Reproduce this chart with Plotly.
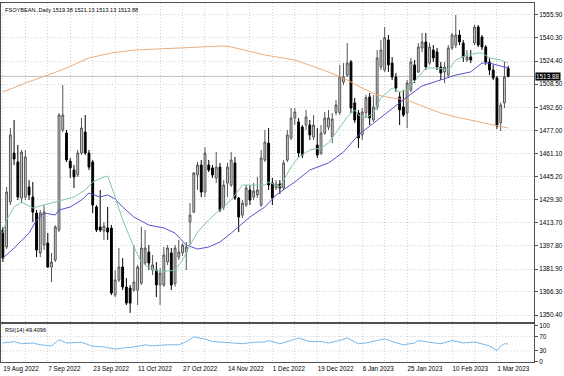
import plotly.graph_objects as go
import pandas as pd

chart_title = "FSOYBEAN.,Daily 1519.38 1521.13 1513.13 1513.88"
rsi_title = "RSI(14) 49.4096"
last_price = 1513.88

holidays = ["2022-09-05", "2022-11-24", "2022-12-26", "2023-01-02", "2023-01-16", "2023-02-20"]
dates = [d for d in pd.bdate_range("2022-08-19", "2023-03-06") if d.strftime("%Y-%m-%d") not in holidays]

opens = [1408.7, 1397.1, 1427.9, 1461.4, 1455.3, 1430.6, 1431.3, 1438.2, 1431.3, 1420.3,
         1393.0, 1398.4, 1399.8, 1383.4, 1388.2, 1408.7, 1477.2, 1475.1, 1455.9, 1449.8,
         1446.4, 1461.4, 1475.8, 1461.4, 1455.3, 1424.5, 1410.8, 1408.0, 1410.1, 1410.1,
         1364.2, 1374.5, 1383.4, 1369.7, 1369.0, 1367.6, 1367.6, 1372.4, 1386.1, 1393.6,
         1381.3, 1381.3, 1371.1, 1371.1, 1386.8, 1393.0, 1372.0, 1390.2, 1393.0, 1393.6,
         1414.2, 1421.0, 1446.4, 1453.2, 1434.7, 1453.2, 1451.2, 1444.3, 1451.8, 1424.5,
         1440.9, 1439.5, 1454.6, 1430.6, 1418.9, 1425.8, 1436.1, 1431.3, 1432.7, 1425.8,
         1456.6, 1468.2, 1440.9, 1437.5, 1440.2, 1437.5, 1456.6, 1471.7, 1485.4, 1482.7,
         1479.2, 1480.6, 1480.6, 1472.4, 1466.9, 1461.4, 1475.1, 1479.2, 1472.4, 1489.1,
         1489.1, 1510.0, 1514.8, 1523.7, 1495.7, 1488.8, 1473.8, 1489.1, 1499.8, 1484.0,
         1492.9, 1520.3, 1518.2, 1538.8, 1523.0, 1513.5, 1499.8, 1492.9, 1488.8, 1504.6,
         1521.7, 1516.9, 1533.3, 1537.4, 1523.0, 1531.9, 1530.6, 1520.3, 1516.9, 1514.8,
         1533.3, 1535.3, 1542.2, 1536.7, 1525.1, 1527.2, 1536.7, 1547.7, 1540.8, 1534.0,
         1523.7, 1518.2, 1512.8, 1482.0, 1495.7, 1519.38]
highs = [1410.8, 1438.2, 1478.5, 1484.0, 1466.9, 1463.5, 1463.5, 1442.9, 1441.6, 1422.4,
         1422.4, 1425.8, 1406.7, 1393.0, 1412.1, 1488.8, 1508.0, 1477.2, 1458.0, 1453.2,
         1463.5, 1485.4, 1487.4, 1463.5, 1456.6, 1425.8, 1436.1, 1414.2, 1424.5, 1412.1,
         1381.3, 1396.4, 1389.5, 1375.8, 1371.1, 1398.4, 1384.8, 1410.8, 1408.7, 1398.4,
         1391.6, 1386.8, 1382.7, 1397.1, 1398.4, 1396.4, 1398.4, 1401.9, 1399.8, 1400.5,
         1427.2, 1448.4, 1455.3, 1456.6, 1465.5, 1456.6, 1453.2, 1462.1, 1454.6, 1442.9,
         1454.6, 1462.1, 1458.7, 1431.3, 1429.2, 1439.5, 1439.5, 1440.9, 1445.0, 1463.5,
         1477.2, 1478.5, 1444.3, 1442.9, 1442.9, 1456.6, 1477.2, 1492.2, 1492.2, 1485.4,
         1480.6, 1490.9, 1484.0, 1487.4, 1478.5, 1480.6, 1489.5, 1490.9, 1488.8, 1497.7,
         1521.7, 1523.0, 1536.7, 1525.1, 1499.1, 1490.9, 1492.2, 1501.3, 1502.5, 1501.1,
         1531.9, 1538.8, 1547.7, 1542.2, 1527.1, 1516.2, 1503.2, 1504.6, 1511.4, 1526.5,
         1525.1, 1536.7, 1543.6, 1543.6, 1536.7, 1535.3, 1533.3, 1523.7, 1523.7, 1535.3,
         1543.6, 1555.9, 1545.6, 1538.8, 1531.9, 1531.9, 1549.1, 1549.1, 1542.2, 1535.3,
         1526.5, 1521.7, 1514.1, 1496.0, 1523.7, 1521.13]
lows = [1386.8, 1395.7, 1425.8, 1453.2, 1429.2, 1427.2, 1429.2, 1429.2, 1414.2, 1390.2,
        1390.2, 1395.0, 1382.7, 1373.1, 1386.8, 1407.3, 1475.8, 1455.3, 1444.3, 1437.5,
        1445.0, 1460.1, 1460.1, 1449.8, 1420.3, 1407.3, 1407.3, 1401.9, 1401.9, 1364.2,
        1362.8, 1373.1, 1367.6, 1357.4, 1352.0, 1366.3, 1357.4, 1371.1, 1384.8, 1381.3,
        1377.9, 1362.8, 1357.4, 1369.7, 1384.8, 1367.6, 1370.0, 1388.2, 1390.9, 1381.3,
        1398.4, 1420.3, 1436.1, 1431.3, 1431.3, 1448.4, 1444.3, 1440.9, 1421.0, 1422.4,
        1431.3, 1438.2, 1429.2, 1407.3, 1416.9, 1424.5, 1425.8, 1429.2, 1430.6, 1424.5,
        1455.3, 1436.1, 1425.8, 1436.1, 1433.4, 1436.1, 1455.3, 1470.3, 1480.6, 1458.7,
        1458.0, 1477.2, 1470.3, 1470.3, 1458.0, 1460.1, 1473.8, 1477.2, 1468.2, 1487.4,
        1487.4, 1508.0, 1513.5, 1488.8, 1482.0, 1464.8, 1470.3, 1485.4, 1480.6, 1482.7,
        1490.9, 1518.2, 1516.9, 1516.9, 1511.4, 1503.2, 1480.6, 1486.1, 1478.5, 1503.2,
        1509.3, 1516.2, 1530.5, 1518.2, 1521.7, 1523.7, 1518.2, 1511.4, 1509.3, 1513.5,
        1531.9, 1533.3, 1535.3, 1523.7, 1523.7, 1523.0, 1535.3, 1534.0, 1531.9, 1521.7,
        1514.8, 1511.4, 1477.9, 1476.5, 1492.2, 1513.13]
closes = [1389.5, 1434.7, 1473.8, 1457.3, 1431.3, 1462.1, 1458.7, 1432.7, 1421.0, 1395.0,
          1420.3, 1421.0, 1383.4, 1386.8, 1410.8, 1487.4, 1487.4, 1456.6, 1451.2, 1445.0,
          1461.4, 1478.5, 1461.4, 1451.8, 1425.8, 1408.7, 1408.7, 1411.4, 1407.3, 1365.6,
          1374.5, 1383.4, 1369.7, 1358.7, 1358.7, 1373.1, 1383.4, 1396.4, 1396.4, 1386.1,
          1384.8, 1371.1, 1379.3, 1391.6, 1396.4, 1371.1, 1396.4, 1393.6, 1398.4, 1397.1,
          1418.9, 1447.7, 1453.2, 1434.7, 1461.4, 1449.8, 1446.4, 1451.8, 1422.4, 1439.5,
          1451.8, 1456.6, 1430.6, 1417.6, 1427.2, 1437.5, 1429.2, 1435.4, 1436.1, 1458.0,
          1468.9, 1439.5, 1430.6, 1440.2, 1437.5, 1454.6, 1473.8, 1485.4, 1489.5, 1461.4,
          1460.1, 1486.1, 1473.8, 1480.6, 1460.1, 1475.1, 1485.4, 1485.4, 1484.7, 1494.3,
          1513.5, 1513.5, 1523.0, 1492.2, 1484.0, 1471.7, 1489.5, 1499.3, 1485.4, 1492.9,
          1526.5, 1531.9, 1540.4, 1521.7, 1513.5, 1505.9, 1490.9, 1487.4, 1509.3, 1523.7,
          1511.4, 1534.0, 1537.4, 1520.3, 1534.0, 1526.5, 1520.3, 1516.2, 1520.3, 1533.3,
          1542.2, 1542.2, 1537.4, 1527.2, 1527.2, 1525.1, 1547.7, 1535.3, 1534.0, 1523.7,
          1518.2, 1512.8, 1479.9, 1494.3, 1513.5, 1513.88]

ma_slow_bars = [0, 6, 12, 17, 23, 29, 35, 50, 53, 59, 61, 70, 78, 87, 92, 96, 100, 104, 108, 112, 117, 121, 126, 130, 135]
ma_slow_vals = [1503.2, 1509.3, 1514.8, 1519.6, 1526.5, 1529.9, 1531.9, 1533.3, 1534.0, 1534.7, 1534.0, 1528.5, 1525.1,
                1516.9, 1511.4, 1505.9, 1501.1, 1499.1, 1497.7, 1493.6, 1488.8, 1486.1, 1483.3, 1481.3, 1478.5]
ma_mid_bars = [0, 3, 7, 9, 11, 14, 15, 18, 21, 23, 26, 28, 30, 32, 35, 39, 43, 46, 49, 52, 55, 58, 61, 63, 66, 70,
               73, 78, 82, 87, 91, 95, 100, 104, 108, 112, 117, 121, 125, 128, 130, 133, 135]
ma_mid_vals = [1389.5, 1396.4, 1406.6, 1415.6, 1420.4, 1419.0, 1422.4, 1424.5, 1429.2, 1434.0, 1431.3, 1432.7, 1429.9,
               1424.5, 1417.6, 1412.1, 1410.1, 1406.6, 1398.4, 1395.7, 1397.1, 1400.5, 1406.6, 1410.8, 1417.6, 1424.5,
               1432.7, 1441.6, 1449.8, 1454.6, 1462.1, 1473.8, 1484.0, 1492.2, 1499.8, 1507.3, 1511.4, 1514.8, 1516.9,
               1523.0, 1523.0, 1521.0, 1519.6]
ma_fast_bars = [0, 1, 3, 5, 8, 11, 14, 16, 19, 22, 24, 27, 28, 30, 32, 35, 37, 39, 42, 46, 48, 50, 52, 55, 57, 61,
                64, 67, 70, 71, 74, 77, 79, 82, 85, 87, 89, 92, 94, 95, 97, 99, 101, 103, 104, 106, 108, 111, 113,
                116, 119, 121, 124, 127, 128, 130, 133, 135]
ma_fast_vals = [1406.6, 1415.6, 1424.5, 1427.9, 1423.8, 1425.8, 1427.9, 1429.2, 1431.3, 1436.1, 1441.6, 1445.0, 1445.7,
                1431.3, 1415.6, 1397.1, 1386.8, 1382.7, 1380.0, 1381.3, 1388.2, 1398.4, 1407.3, 1415.6, 1420.4, 1429.2,
                1439.5, 1439.5, 1439.5, 1441.6, 1438.2, 1451.8, 1458.7, 1463.5, 1464.8, 1468.3, 1475.1, 1486.1, 1490.9,
                1487.4, 1485.4, 1488.8, 1499.1, 1503.2, 1505.9, 1503.2, 1504.6, 1513.5, 1519.6, 1519.6, 1518.2, 1525.1,
                1528.5, 1529.9, 1529.9, 1526.5, 1525.1, 1523.0]

rsi_bars = [0, 3, 5, 8, 10, 13, 15, 17, 21, 24, 27, 30, 32, 35, 38, 40, 44, 47, 49, 51, 54, 56, 59, 62, 64, 67, 70,
            71, 74, 77, 79, 82, 85, 87, 90, 92, 95, 97, 100, 102, 104, 107, 110, 111, 114, 117, 120, 123, 126, 128,
            130, 132, 133, 134, 135]
rsi_vals = [52, 56, 50, 52, 47, 44, 61, 52, 54, 43, 41, 35, 38, 41, 47, 44, 47, 47, 56, 69, 63, 56, 54, 52, 50, 54, 55,
            59, 50, 59, 66, 56, 56, 52, 59, 66, 50, 52, 59, 64, 56, 47, 52, 59, 54, 50, 59, 52, 55, 50, 44, 31, 43, 50,
            49.41]

price_ticks = [1555.90, 1540.30, 1524.40, 1508.50, 1492.60, 1477.00, 1461.10, 1445.20,
               1429.30, 1413.70, 1397.80, 1381.90, 1366.30, 1350.40]
rsi_ticks = [0, 30, 70, 100]

bars = list(range(len(dates)))
grid_bars = bars[::6]
grid_text = [f"{dates[b].day} {dates[b].strftime('%b %Y')}" if b % 12 == 0 else "" for b in grid_bars]

GRID = "#d2d2d2"
GRID_DASH = "1px,2px"
FRAME = "#505050"
FONT = "Liberation Sans, Arial, sans-serif"

fig = go.Figure()
fig.add_trace(go.Scatter(x=ma_slow_bars, y=ma_slow_vals, mode="lines", line=dict(color="#e8ad80", width=1),
                         xaxis="x2", yaxis="y", showlegend=False, hoverinfo="skip"))
fig.add_trace(go.Scatter(x=ma_mid_bars, y=ma_mid_vals, mode="lines", line=dict(color="#5454cc", width=1),
                         xaxis="x2", yaxis="y", showlegend=False, hoverinfo="skip"))
fig.add_trace(go.Scatter(x=ma_fast_bars, y=ma_fast_vals, mode="lines", line=dict(color="#84c8a8", width=1),
                         xaxis="x2", yaxis="y", showlegend=False, hoverinfo="skip"))
fig.add_trace(go.Candlestick(
    x=bars, open=opens, high=highs, low=lows, close=closes, xaxis="x2", yaxis="y",
    increasing=dict(line=dict(color="#555555", width=1), fillcolor="#d4d4d4"),
    decreasing=dict(line=dict(color="#000000", width=1), fillcolor="#000000"),
    whiskerwidth=0, showlegend=False))
fig.add_trace(go.Scatter(x=rsi_bars, y=rsi_vals, mode="lines", line=dict(color="#78b8ec", width=1),
                         xaxis="x", yaxis="y2", showlegend=False))

fig.add_shape(type="line", xref="paper", x0=0, x1=1, yref="y", y0=last_price, y1=last_price,
              line=dict(color="#c0c0c0", width=1), layer="below")

common_axis = dict(automargin=False, zeroline=False, showline=True, mirror=True, linecolor=FRAME, linewidth=1)

fig.update_layout(
    width=564, height=376,
    margin=dict(l=1, r=30, t=3, b=14),
    paper_bgcolor="white", plot_bgcolor="white",
    font=dict(family=FONT, size=6.4, color="#000000"),
    xaxis=dict(domain=[0, 1], anchor="y2", range=[-0.5, 141.9], tickmode="array", tickvals=grid_bars,
               ticktext=grid_text, ticklabelposition="outside right", ticks="", showgrid=True,
               gridcolor=GRID, griddash=GRID_DASH, gridwidth=1, rangeslider=dict(visible=False),
               tickfont=dict(size=6.3), **common_axis),
    xaxis2=dict(domain=[0, 1], anchor="y", matches="x", tickmode="array", tickvals=grid_bars,
                showticklabels=False, ticks="", showgrid=True, gridcolor=GRID, griddash=GRID_DASH, gridwidth=1,
                rangeslider=dict(visible=False), **common_axis),
    yaxis=dict(domain=[0.1128, 1], anchor="x2", side="right", range=[1346.1, 1564.1], tickmode="array",
               tickvals=price_ticks, ticktext=[f"{v:.2f}" for v in price_ticks], ticks="outside", ticklen=3,
               tickcolor=FRAME, showgrid=True, gridcolor=GRID, griddash=GRID_DASH, gridwidth=1,
               tickfont=dict(size=6.4), **common_axis),
    yaxis2=dict(domain=[0, 0.1058], anchor="x", side="right", range=[-1, 105], tickmode="array",
                tickvals=rsi_ticks, ticktext=[str(v) for v in rsi_ticks], ticks="outside", ticklen=3,
                tickcolor=FRAME, showgrid=False, tickfont=dict(size=6.4), **common_axis),
    annotations=[
        dict(text=chart_title, xref="paper", yref="paper", x=0.004, y=1, xanchor="left", yanchor="top",
             yshift=-2, showarrow=False, font=dict(size=5.6, color="#000000")),
        dict(text=rsi_title, xref="paper", yref="paper", x=0.004, y=0.1058, xanchor="left", yanchor="top",
             yshift=-1, showarrow=False, font=dict(size=5.6, color="#000000")),
        dict(text=f"{last_price:.2f}", xref="paper", yref="y", x=1, y=last_price, xanchor="left",
             yanchor="middle", xshift=1, showarrow=False, bgcolor="#000000", borderpad=0,
             font=dict(size=6.4, color="#ffffff")),
    ],
)

for lvl in [30, 70]:
    fig.add_shape(type="line", xref="x", x0=-0.5, x1=141.9, yref="y2", y0=lvl, y1=lvl,
                  line=dict(color=GRID, width=1, dash=GRID_DASH), layer="below")

fig.write_html("out.html", config={"displayModeBar": False},
               post_script="document.body.style.margin='0px';document.body.style.overflow='hidden';")
